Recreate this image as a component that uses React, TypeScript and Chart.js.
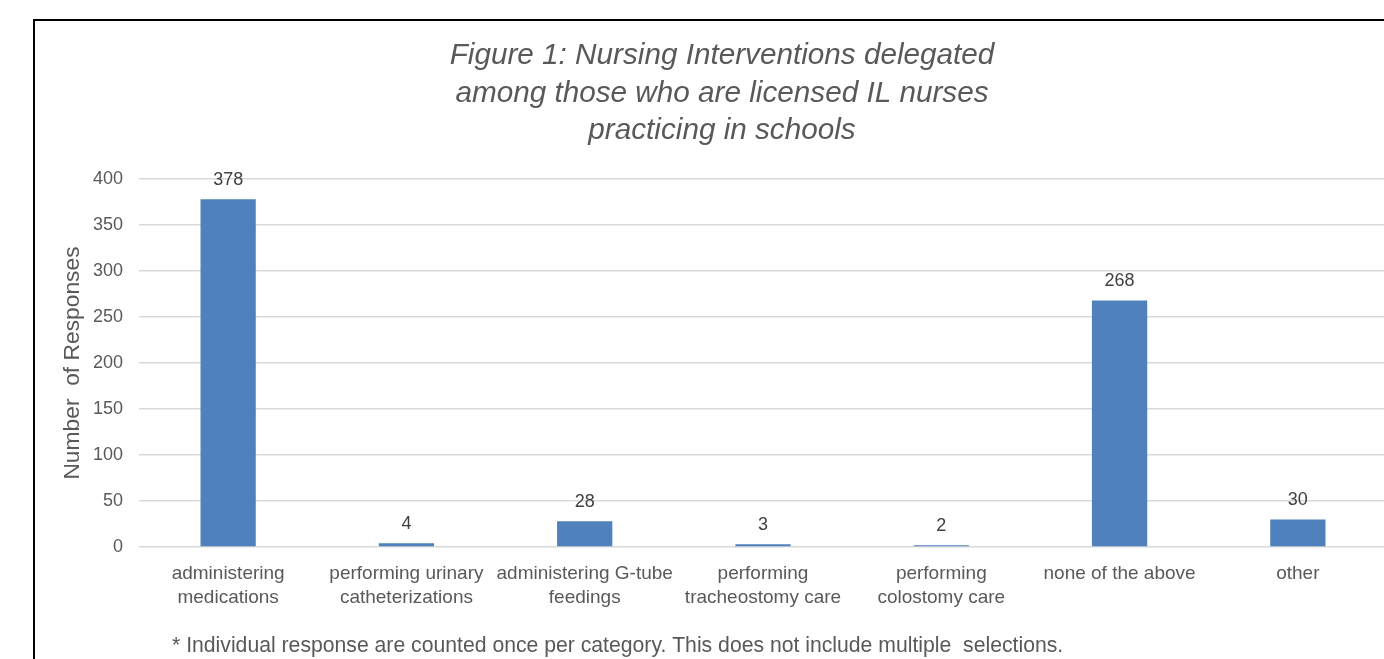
import React, { useEffect, useRef } from "react";
import { Chart, registerables } from "chart.js";

Chart.register(...registerables);

const categories: (string | string[])[] = [
  ["administering", "medications"],
  ["performing urinary", "catheterizations"],
  ["administering G-tube", "feedings"],
  ["performing", "tracheostomy care"],
  ["performing", "colostomy care"],
  "none of the above",
  "other",
];
const responses: number[] = [378, 4, 28, 3, 2, 268, 30];
const titleLines: string[] = [
  "Figure 1: Nursing Interventions delegated",
  "among those who are licensed IL nurses",
  "practicing in schools",
];
const yAxisTitle = "Number  of Responses";
const footnote =
  "* Individual response are counted once per category. This does not include multiple  selections.";

const FONT = "'Liberation Sans', Arial, sans-serif";

const dataLabelPlugin = {
  id: "dataLabels",
  afterDatasetsDraw(chart: any) {
    const ctx = chart.ctx;
    const meta = chart.getDatasetMeta(0);
    ctx.save();
    ctx.font = `18px ${FONT}`;
    ctx.fillStyle = "#404040";
    ctx.textAlign = "center";
    ctx.textBaseline = "alphabetic";
    meta.data.forEach((bar: any, i: number) => {
      ctx.fillText(String(responses[i]), bar.x, bar.y - 14);
    });
    ctx.restore();
  },
};

const footnotePlugin = {
  id: "footnote",
  afterDraw(chart: any) {
    const ctx = chart.ctx;
    ctx.save();
    ctx.font = `21.2px ${FONT}`;
    ctx.fillStyle = "#595959";
    ctx.textAlign = "left";
    ctx.textBaseline = "alphabetic";
    ctx.fillText(footnote, 172, 652);
    ctx.restore();
  },
};

export default function App() {
  const canvasRef = useRef<HTMLCanvasElement | null>(null);

  useEffect(() => {
    const canvas = canvasRef.current;
    if (!canvas) return;
    const chart = new Chart(canvas, {
      type: "bar",
      data: {
        labels: categories,
        datasets: [
          {
            data: responses,
            backgroundColor: "#4F81BD",
            borderWidth: 0,
            categoryPercentage: 1,
            barPercentage: 0.31,
          },
        ],
      },
      options: {
        responsive: false,
        animation: false,
        devicePixelRatio: 1,
        layout: { padding: { left: 57, right: 13, top: 0, bottom: 0 } },
        plugins: {
          legend: { display: false },
          tooltip: { enabled: false },
          title: {
            display: true,
            text: titleLines,
            color: "#595959",
            font: { family: FONT, size: 29.7, style: "italic", weight: "normal", lineHeight: 1.263 },
            padding: { top: 37, bottom: 29.5 },
          },
        },
        scales: {
          x: {
            grid: { display: false, drawTicks: false },
            border: { display: false },
            ticks: {
              color: "#595959",
              font: { family: FONT, size: 19, lineHeight: 1.23 },
              padding: 15.5,
              maxRotation: 0,
              minRotation: 0,
              autoSkip: false,
            },
            afterFit(scale: any) {
              scale.height = 112;
            },
          },
          y: {
            min: 0,
            max: 400,
            grid: { color: "#D9D9D9", lineWidth: 1.5, drawTicks: false },
            border: { display: false },
            ticks: {
              stepSize: 50,
              color: "#595959",
              font: { family: FONT, size: 18 },
              padding: 16,
            },
            title: {
              display: true,
              text: yAxisTitle,
              color: "#595959",
              font: { family: FONT, size: 22.8, weight: "normal" },
              padding: { top: 2.5, bottom: 0 },
            },
            afterFit(scale: any) {
              scale.width = 82;
            },
          },
        },
      },
      plugins: [dataLabelPlugin, footnotePlugin],
    });
    return () => chart.destroy();
  }, []);

  return (
    <div
      style={{
        position: "fixed",
        left: 0,
        top: 0,
        width: 1384,
        height: 659,
        overflow: "hidden",
        background: "#ffffff",
      }}
    >
      <canvas
        ref={canvasRef}
        width={1400}
        height={659}
        style={{ position: "absolute", left: 0, top: 0, width: 1400, height: 659 }}
      />
      <div
        style={{
          position: "absolute",
          left: 33,
          top: 19,
          width: 1500,
          height: 800,
          border: "2px solid #000000",
          pointerEvents: "none",
        }}
      />
    </div>
  );
}
